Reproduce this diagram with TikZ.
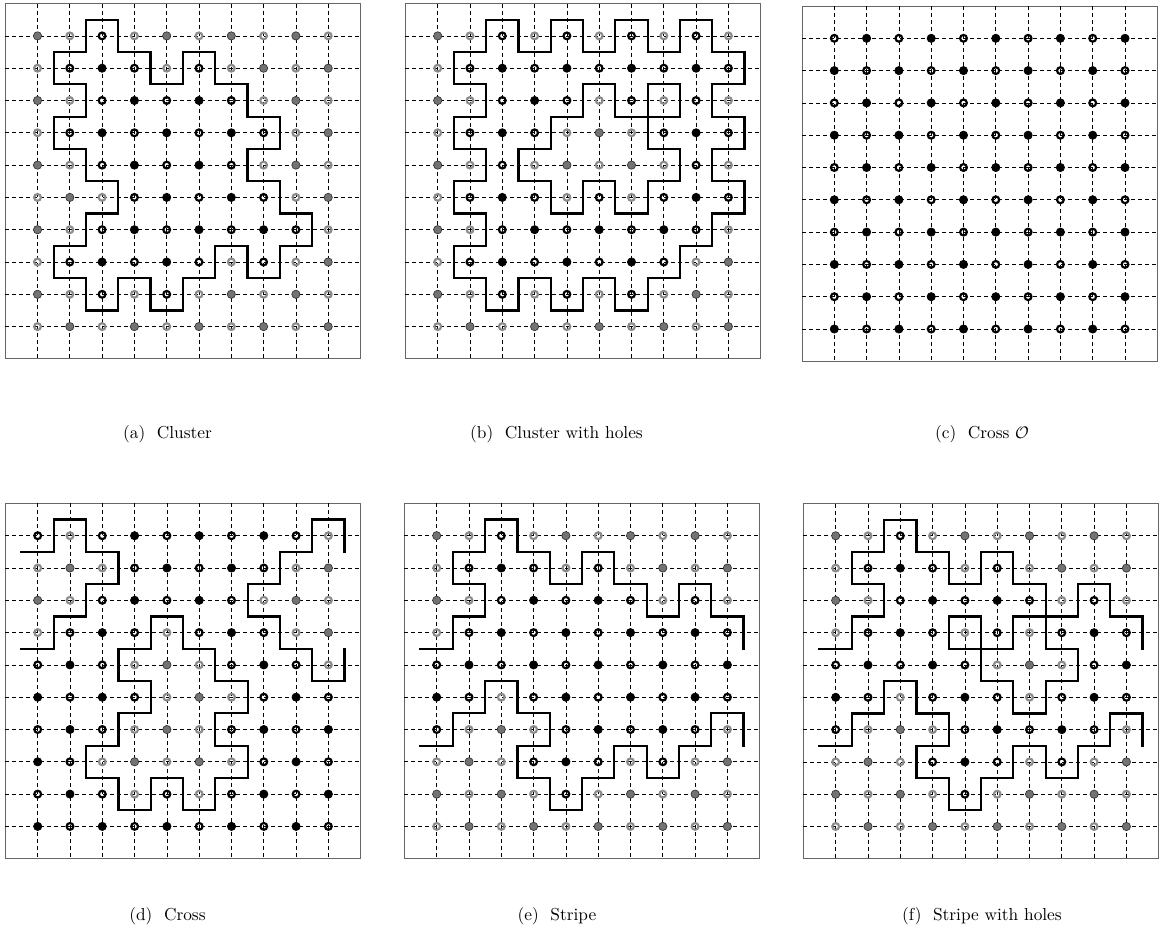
\documentclass[tikz,border=0pt]{standalone}
\newcount\cellcnt
\def\curp{}\def\curr{}
\def\setrow#1#2#3{\def\curp{#1}\def\curr{#2}\global\cellcnt=0 \parsech#3\relax}
\def\parsech#1{\ifx#1\relax\else\global\advance\cellcnt by 1 \expandafter\xdef\csname S\curp-\curr-\the\cellcnt\endcsname{#1}\expandafter\parsech\fi}
% panel a
\setrow{a}{1}{0010000000}
\setrow{a}{2}{0111010000}
\setrow{a}{3}{0011111000}
\setrow{a}{4}{0111111100}
\setrow{a}{5}{0011111000}
\setrow{a}{6}{0001111100}
\setrow{a}{7}{0011111110}
\setrow{a}{8}{0111110100}
\setrow{a}{9}{0010100000}
\setrow{a}{10}{0000000000}
% panel b
\setrow{b}{1}{0010101010}
\setrow{b}{2}{0111111111}
\setrow{b}{3}{0011101010}
\setrow{b}{4}{0111000111}
\setrow{b}{5}{0010000010}
\setrow{b}{6}{0111010111}
\setrow{b}{7}{0011111110}
\setrow{b}{8}{0111111100}
\setrow{b}{9}{0010101000}
\setrow{b}{10}{0000000000}
% panel c
\setrow{c}{1}{1111111111}
\setrow{c}{2}{1111111111}
\setrow{c}{3}{1111111111}
\setrow{c}{4}{1111111111}
\setrow{c}{5}{1111111111}
\setrow{c}{6}{1111111111}
\setrow{c}{7}{1111111111}
\setrow{c}{8}{1111111111}
\setrow{c}{9}{1111111111}
\setrow{c}{10}{1111111111}
% panel d
\setrow{d}{1}{1011111110}
\setrow{d}{2}{0001111100}
\setrow{d}{3}{0011111000}
\setrow{d}{4}{0111011100}
\setrow{d}{5}{1110001110}
\setrow{d}{6}{1111000111}
\setrow{d}{7}{1110001111}
\setrow{d}{8}{1100000111}
\setrow{d}{9}{1110101111}
\setrow{d}{10}{1111111111}
% panel e
\setrow{e}{1}{0010000000}
\setrow{e}{2}{0111010000}
\setrow{e}{3}{0011111010}
\setrow{e}{4}{0111111111}
\setrow{e}{5}{1111111111}
\setrow{e}{6}{1101111111}
\setrow{e}{7}{1000111110}
\setrow{e}{8}{0001110100}
\setrow{e}{9}{0000100000}
\setrow{e}{10}{0000000000}
% panel f
\setrow{f}{1}{0010000000}
\setrow{f}{2}{0111010000}
\setrow{f}{3}{0011111010}
\setrow{f}{4}{0111010111}
\setrow{f}{5}{1111100011}
\setrow{f}{6}{1101110111}
\setrow{f}{7}{1000111110}
\setrow{f}{8}{0001110100}
\setrow{f}{9}{0000100000}
\setrow{f}{10}{0000000000}

\tikzset{
  gridln/.style={black, line width=0.45pt, dash pattern=on 2.4pt off 1.8pt},
  frm/.style={draw=black!60, line width=0.6pt},
  bd/.style={black, line width=1.3pt, line cap=rect},
  fillB/.style={fill=black, draw=black, line width=0.4pt},
  fillG/.style={fill=black!55, draw=black!80, line width=0.4pt},
  ringB/.style={draw=black, line width=1.3pt},
  ringG/.style={draw=black!45, line width=1.3pt},
  captxt/.style={font=\fontsize{10.4}{12.5}\selectfont, inner sep=0pt}
}

\newcommand\drawpanel[3]{%
\begin{scope}[shift={(#2,#3)}, scale=32.3]
  \draw[frm] (0,0) rectangle (11,11);
  \foreach \k in {1,...,10}{
    \draw[gridln] (0,\k) -- (11,\k);
    \draw[gridln] (\k,0) -- (\k,11);
  }
  \foreach \ri in {1,...,10}{
    \foreach \ci in {1,...,10}{
      \edef\vv{\csname S#1-\ri-\ci\endcsname}%
      \pgfmathtruncatemacro\rU{\ri==1 ? 10 : \ri-1}%
      \pgfmathtruncatemacro\cR{\ci==10 ? 1 : \ci+1}%
      \edef\vu{\csname S#1-\rU-\ci\endcsname}%
      \edef\vr{\csname S#1-\ri-\cR\endcsname}%
      \ifnum\vv=\vu\relax\else \draw[bd] (\ci-0.5,\ri-0.5) -- (\ci+0.5,\ri-0.5);\fi
      \ifnum\vv=\vr\relax\else \draw[bd] (\ci+0.5,\ri-0.5) -- (\ci+0.5,\ri+0.5);\fi
    }
  }
  \foreach \ri in {1,...,10}{
    \foreach \ci in {1,...,10}{
      \edef\vv{\csname S#1-\ri-\ci\endcsname}%
      \pgfmathtruncatemacro\pty{mod(\ri+\ci+\vv,2)}%
      \ifnum\vv=1
        \ifnum\pty=0 \path[fillB] (\ci,\ri) circle (0.128);\else \draw[ringB] (\ci,\ri) circle (0.105);\fi
      \else
        \ifnum\pty=0 \path[fillG] (\ci,\ri) circle (0.128);\else \draw[ringG] (\ci,\ri) circle (0.105);\fi
      \fi
    }
  }
\end{scope}}

\begin{document}
\begin{tikzpicture}[x=0.6pt, y=-0.6pt]
\useasboundingbox (0,0) rectangle (1160,940);
\drawpanel{a}{5.2}{3.6}
\drawpanel{b}{405.4}{3.6}
\drawpanel{c}{802}{6}
\drawpanel{d}{5.4}{503.4}
\drawpanel{e}{404.4}{503.4}
\drawpanel{f}{803.4}{503.5}
\node[captxt] (capa) at (167.5,434) {(a)\ \ Cluster};
\node[captxt] (capb) at (556.5,434) {(b)\ \ Cluster with holes};
\node[captxt] (capc) at (982,434) {(c)\ \ Cross $\mathcal{O}$};
\node[captxt] (capd) at (167.5,916) {(d)\ \ Cross};
\node[captxt] (cape) at (557,916) {(e)\ \ Stripe};
\node[captxt] (capf) at (982,916) {(f)\ \ Stripe with holes};
\end{tikzpicture}
\end{document}
